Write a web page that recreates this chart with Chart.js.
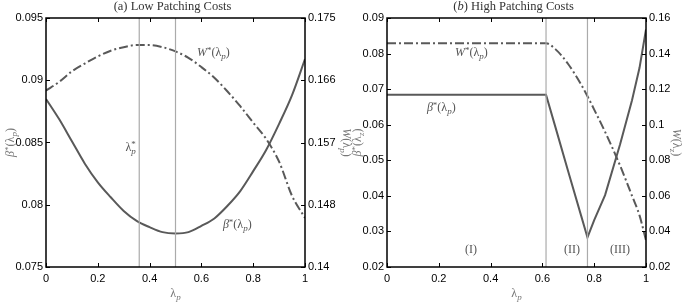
<!DOCTYPE html>
<html>
<head>
<meta charset="utf-8">
<script src="https://cdn.jsdelivr.net/npm/chart.js@4.4.0/dist/chart.umd.min.js"></script>
<style>
  body { margin: 0; background: #fff; }
  #wrap { position: relative; width: 684px; height: 303px; }
  canvas { position: absolute; left: 0; top: 0; }
</style>
</head>
<body>
<div id="wrap">
  <canvas id="chartA" width="684" height="303"></canvas>
  <canvas id="chartB" width="684" height="303"></canvas>
</div>
<script>
// ---- data, panel (a) ----
var lambdaA = [0, 0.05, 0.1, 0.15, 0.2, 0.25, 0.3, 0.35, 0.4, 0.45, 0.5, 0.55, 0.6, 0.65, 0.7, 0.75, 0.8, 0.85, 0.9, 0.95, 1];
var betaA = [0.0885, 0.0869, 0.0851, 0.0833, 0.0818, 0.0806, 0.0795, 0.0787, 0.0782, 0.0778, 0.0777, 0.0778, 0.0783, 0.0789, 0.0799, 0.0811, 0.0827, 0.0844, 0.0865, 0.0888, 0.0917];
var welfareA = [0.1648, 0.1660, 0.1675, 0.1686, 0.1696, 0.1704, 0.1709, 0.1712, 0.1712, 0.1709, 0.1703, 0.1694, 0.1681, 0.1666, 0.1647, 0.1626, 0.1603, 0.1580, 0.1548, 0.1500, 0.1469];
var vlinesA = [0.36, 0.5];
var yTicksA = [0.075, 0.08, 0.085, 0.09, 0.095];
var yLabelsA = ['0.075', '0.08', '0.085', '0.09', '0.095'];
var y1TicksA = [0.14, 0.14875, 0.1575, 0.16625, 0.175];
var y1LabelsA = ['0.14', '0.148', '0.157', '0.166', '0.175'];

// ---- data, panel (b) ----
var lambdaB = [0, 0.1, 0.2, 0.3, 0.4, 0.5, 0.614, 0.65, 0.7, 0.75, 0.774, 0.8, 0.842, 0.9, 0.946, 0.975, 1];
var betaB = [0.0684, 0.0684, 0.0684, 0.0684, 0.0684, 0.0684, 0.0684, 0.0594, 0.0468, 0.0343, 0.0283, 0.0332, 0.0402, 0.0545, 0.0669, 0.0760, 0.0868];
var welfareB = [0.1458, 0.1458, 0.1458, 0.1458, 0.1458, 0.1458, 0.1458, 0.1425, 0.1340, 0.1225, 0.1160, 0.1085, 0.0960, 0.0770, 0.0600, 0.0490, 0.0350];
var vlinesB = [0.614, 0.774];
var yTicksB = [0.02, 0.03, 0.04, 0.05, 0.06, 0.07, 0.08, 0.09];
var yLabelsB = ['0.02', '0.03', '0.04', '0.05', '0.06', '0.07', '0.08', '0.09'];
var y1TicksB = [0.02, 0.04, 0.06, 0.08, 0.1, 0.12, 0.14, 0.16];
var y1LabelsB = ['0.02', '0.04', '0.06', '0.08', '0.1', '0.12', '0.14', '0.16'];

var xTicks = [0, 0.2, 0.4, 0.6, 0.8, 1];
var xLabels = ['0', '0.2', '0.4', '0.6', '0.8', '1'];

var curveColor = '#595959';
var vlineColor = '#ababab';
var serif = '"Liberation Serif", "DejaVu Serif", serif';

// little math text helper: parts are [text, kind, italic]
function fontFor(p, size) {
  var s = p[1] === 'n' ? size : Math.round(size * 0.72);
  return (p[2] ? 'italic ' : '') + s + 'px ' + serif;
}
function partWidth(ctx, p, size) {
  ctx.font = fontFor(p, size);
  if (p[1] === 'stack') {
    return Math.max(ctx.measureText(p[0]).width, ctx.measureText(p[3]).width);
  }
  return ctx.measureText(p[0]).width;
}
function drawMath(ctx, parts, x, y, align, size, color) {
  var w = 0;
  parts.forEach(function(p) { w += partWidth(ctx, p, size); });
  var sx = align === 'center' ? x - w / 2 : (align === 'right' ? x - w : x);
  ctx.fillStyle = color;
  ctx.textAlign = 'left';
  ctx.textBaseline = 'middle';
  parts.forEach(function(p) {
    ctx.font = fontFor(p, size);
    if (p[1] === 'stack') {
      ctx.fillText(p[0], sx, y - size * 0.25);
      ctx.font = 'italic ' + Math.round(size * 0.72) + 'px ' + serif;
      ctx.fillText(p[3], sx, y + size * 0.35);
    } else {
      var dy = p[1] === 'sup' ? -size * 0.2 : (p[1] === 'sub' ? size * 0.3 : 0);
      ctx.fillText(p[0], sx, y + dy);
    }
    sx += partWidth(ctx, p, size);
  });
}

var W_p = [['W', 'n', true], ['*', 'sup', false], ['(λ', 'n', false], ['p', 'sub', true], [')', 'n', false]];
var B_p = [['β', 'n', true], ['*', 'sup', false], ['(λ', 'n', false], ['p', 'sub', true], [')', 'n', false]];
var Wnostar_p = [['W', 'n', true], ['(λ', 'n', false], ['p', 'sub', true], [')', 'n', false]];
var B_z = [['β', 'n', true], ['*', 'sup', false], ['(λ', 'n', false], ['z', 'sub', true], [')', 'n', false]];
var W_z = [['W', 'n', true], ['(λ', 'n', false], ['z', 'sub', true], [')', 'n', false]];
var Lstar = [['λ', 'n', false], ['*', 'stack', false, 'p']];
var Lp = [['λ', 'n', false], ['p', 'sub', true]];

var framePlugin = {
  id: 'frame',
  afterDraw: function(chart, args, opts) {
    var ctx = chart.ctx, a = chart.chartArea, s = chart.scales;
    ctx.save();
    ctx.strokeStyle = '#000';
    ctx.lineWidth = 1;
    ctx.beginPath();
    s.x.ticks.forEach(function(t) {
      var px = Math.round(s.x.getPixelForValue(t.value)) + 0.5;
      ctx.moveTo(px, a.bottom); ctx.lineTo(px, a.bottom - 4);
      ctx.moveTo(px, a.top); ctx.lineTo(px, a.top + 4);
    });
    s.y.ticks.forEach(function(t) {
      var py = Math.round(s.y.getPixelForValue(t.value)) + 0.5;
      ctx.moveTo(a.left, py); ctx.lineTo(a.left + 4, py);
    });
    s.y1.ticks.forEach(function(t) {
      var py = Math.round(s.y1.getPixelForValue(t.value)) + 0.5;
      ctx.moveTo(a.right, py); ctx.lineTo(a.right - 4, py);
    });
    ctx.stroke();
    ctx.lineWidth = 1.5;
    ctx.strokeRect(a.left, a.top, a.right - a.left, a.bottom - a.top);

    // notes inside the plot
    (opts.notes || []).forEach(function(n) {
      var px = s.x.getPixelForValue(n.x), py = s.y.getPixelForValue(n.y);
      drawMath(ctx, n.parts, px, py, n.align, 12, '#555');
    });
    // title and axis titles
    var cx = (a.left + a.right) / 2, cy = (a.top + a.bottom) / 2;
    drawMath(ctx, opts.title, cx - 3, 7, 'center', 12.5, '#333');
    drawMath(ctx, Lp, cx, 294, 'center', 12, '#777');
    ctx.save();
    ctx.translate(opts.leftTitleX, cy);
    ctx.rotate(-Math.PI / 2);
    drawMath(ctx, opts.leftTitle, 0, 0, 'center', 12, '#777');
    ctx.restore();
    ctx.save();
    ctx.translate(opts.rightTitleX, cy);
    ctx.rotate(Math.PI / 2);
    drawMath(ctx, opts.rightTitle, 0, 0, 'center', 12, '#777');
    ctx.restore();
    ctx.restore();
  }
};

function pts(xs, ys) {
  return xs.map(function(x, i) { return { x: x, y: ys[i] }; });
}
function vline(x, lo, hi) {
  return {
    data: [{ x: x, y: lo }, { x: x, y: hi }],
    yAxisID: 'y', borderColor: vlineColor, borderWidth: 1.2, pointRadius: 0
  };
}
function tickFont() {
  return { family: '"Liberation Sans", Arial, sans-serif', size: 11 };
}

function makeChart(id, cfg) {
  return new Chart(document.getElementById(id), {
    type: 'line',
    data: {
      datasets: [
        vline(cfg.vlines[0], cfg.yTicks[0], cfg.yTicks[cfg.yTicks.length - 1]),
        vline(cfg.vlines[1], cfg.yTicks[0], cfg.yTicks[cfg.yTicks.length - 1]),
        {
          data: pts(cfg.lambda, cfg.beta), yAxisID: 'y',
          borderColor: curveColor, borderWidth: 2, pointRadius: 0,
          cubicInterpolationMode: cfg.betaSmooth ? 'monotone' : 'default', tension: 0
        },
        {
          data: pts(cfg.lambda, cfg.welfare), yAxisID: 'y1',
          borderColor: curveColor, borderWidth: 2, pointRadius: 0,
          borderDash: [9, 3, 2, 3], cubicInterpolationMode: 'monotone'
        }
      ]
    },
    options: {
      responsive: false,
      devicePixelRatio: 1,
      animation: false,
      events: [],
      layout: { padding: cfg.padding },
      plugins: {
        legend: { display: false },
        tooltip: { enabled: false },
        frame: {
          notes: cfg.notes, title: cfg.title,
          leftTitle: cfg.leftTitle, rightTitle: cfg.rightTitle,
          leftTitleX: cfg.leftTitleX, rightTitleX: cfg.rightTitleX
        }
      },
      scales: {
        x: {
          type: 'linear', min: 0, max: 1,
          grid: { display: false, drawTicks: false }, border: { display: false },
          afterBuildTicks: function(s) { s.ticks = xTicks.map(function(v) { return { value: v }; }); },
          afterFit: function(s) { s.height = 36; },
          ticks: {
            autoSkip: false, maxRotation: 0, padding: 5, color: '#000', font: tickFont(),
            callback: function(v, i) { return xLabels[i]; }
          }
        },
        y: {
          type: 'linear', position: 'left',
          min: cfg.yTicks[0], max: cfg.yTicks[cfg.yTicks.length - 1],
          grid: { display: false, drawTicks: false }, border: { display: false },
          afterBuildTicks: function(s) { s.ticks = cfg.yTicks.map(function(v) { return { value: v }; }); },
          afterFit: function(s) { s.width = cfg.yWidth; },
          ticks: {
            autoSkip: false, padding: 3, color: '#000', font: tickFont(),
            callback: function(v, i) { return cfg.yLabels[i]; }
          }
        },
        y1: {
          type: 'linear', position: 'right',
          min: cfg.y1Ticks[0], max: cfg.y1Ticks[cfg.y1Ticks.length - 1],
          grid: { display: false, drawTicks: false }, border: { display: false },
          afterBuildTicks: function(s) { s.ticks = cfg.y1Ticks.map(function(v) { return { value: v }; }); },
          afterFit: function(s) { s.width = cfg.y1Width; },
          ticks: {
            autoSkip: false, padding: 3, color: '#000', font: tickFont(),
            callback: function(v, i) { return cfg.y1Labels[i]; }
          }
        }
      }
    },
    plugins: [framePlugin]
  });
}

makeChart('chartA', {
  lambda: lambdaA, beta: betaA, welfare: welfareA, vlines: vlinesA, betaSmooth: true,
  yTicks: yTicksA, yLabels: yLabelsA, y1Ticks: y1TicksA, y1Labels: y1LabelsA,
  yWidth: 46, y1Width: 37,
  padding: { top: 18, right: 342, left: 0, bottom: 0 },
  title: [['(a) Low Patching Costs', 'n', false]],
  leftTitle: B_p, rightTitle: Wnostar_p, leftTitleX: 11, rightTitleX: 346,
  notes: [
    { x: 0.583, y: 0.0922, parts: W_p, align: 'left' },
    { x: 0.683, y: 0.0784, parts: B_p, align: 'left' },
    { x: 0.347, y: 0.0846, parts: Lstar, align: 'right' }
  ]
});

makeChart('chartB', {
  lambda: lambdaB, beta: betaB, welfare: welfareB, vlines: vlinesB, betaSmooth: false,
  yTicks: yTicksB, yLabels: yLabelsB, y1Ticks: y1TicksB, y1Labels: y1LabelsB,
  yWidth: 45, y1Width: 38,
  padding: { top: 18, right: 0, left: 342, bottom: 0 },
  title: [['(', 'n', false], ['b', 'n', true], [') High Patching Costs', 'n', false]],
  leftTitle: B_z, rightTitle: W_z, leftTitleX: 358, rightTitleX: 676,
  notes: [
    { x: 0.2625, y: 0.0802, parts: W_p, align: 'left' },
    { x: 0.154, y: 0.0647, parts: B_p, align: 'left' },
    { x: 0.324, y: 0.0248, parts: [['(I)', 'n', false]], align: 'center' },
    { x: 0.714, y: 0.0248, parts: [['(II)', 'n', false]], align: 'center' },
    { x: 0.90, y: 0.0248, parts: [['(III)', 'n', false]], align: 'center' }
  ]
});
</script>
</body>
</html>
